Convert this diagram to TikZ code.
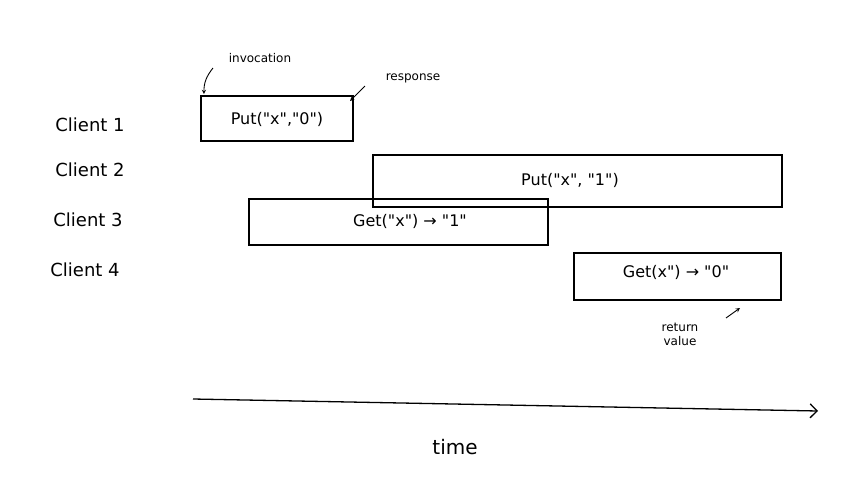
\documentclass[tikz,border=0pt]{standalone}
\usepackage{fontspec}
\setmainfont{DejaVu Sans}[Ligatures=TeXOff]
\usetikzlibrary{arrows.meta}
\newcommand{\dq}{"}
\begin{document}
\begin{tikzpicture}[x=1pt,y=-1pt,
  op/.style={draw,line width=1.3pt,inner sep=0pt},
  lbl/.style={font=\fontsize{18}{21}\selectfont},
  oplbl/.style={font=\fontsize{16}{19}\selectfont},
  note/.style={font=\fontsize{12}{14}\selectfont},
  ann/.style={-stealth,line width=0.9pt}]
\useasboundingbox (0,0) rectangle (849,488);
\node[lbl] (c1) at (90,125) {Client 1};
\node[lbl] (c2) at (90,170) {Client 2};
\node[lbl] (c3) at (88,220) {Client 3};
\node[lbl] (c4) at (85,270) {Client 4};
\draw[op] (201,96) rectangle (353,141);
\node[oplbl] (p1) at (277,119) {Put(\dq x\dq,\dq 0\dq)};
\draw[op] (373,155) rectangle (782,207);
\node[oplbl] (p2) at (570,180) {Put(\dq x\dq, \dq 1\dq)};
\draw[op] (249,199) rectangle (548,245);
\node[oplbl] (g3) at (410,221) {Get(\dq x\dq) → \dq 1\dq};
\draw[op] (574,253) rectangle (781,300);
\node[oplbl] (g4) at (676,272) {Get(x\dq) → \dq 0\dq};
\coordinate (inv) at (204,94);
\coordinate (resp) at (350,101);
\coordinate (ret) at (740,308);
\node[note] (ni) at (260,58) {invocation};
\node[note] (nr) at (413,78) {response};
\node[note,align=center] (nv) at (680,334) {return\\value};
\draw[ann] (213,68) to[bend right=20] (inv);
\draw[ann] (365,86) -- (resp);
\draw[ann] (726,318) -- (ret);
\coordinate (t0) at (193,399);
\coordinate (t1) at (818,411);
\draw[-{Straight Barb[length=7pt,width=14pt]},line width=1.3pt] (t0) -- (t1);
\node[font=\fontsize{20}{24}\selectfont] (time) at (455,447) {time};
\end{tikzpicture}
\end{document}
